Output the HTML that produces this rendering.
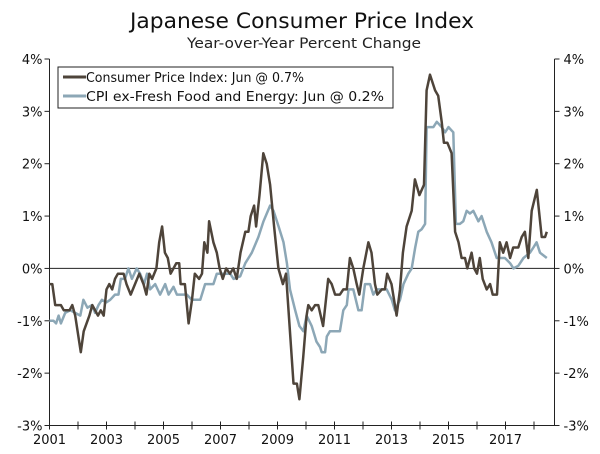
<!DOCTYPE html>
<html><head><meta charset="utf-8"><style>
body{margin:0;background:#fff;width:600px;height:454px;overflow:hidden}
svg{display:block;font-family:"DejaVu Sans","Liberation Sans",sans-serif}
</style></head><body>
<svg id="chart" width="600" height="454" viewBox="0 0 600 454">
<text x="302" y="28" font-size="21" text-anchor="middle" fill="#111" textLength="344" lengthAdjust="spacingAndGlyphs">Japanese Consumer Price Index</text>
<text x="304" y="48" font-size="14" text-anchor="middle" fill="#222" textLength="234" lengthAdjust="spacingAndGlyphs">Year-over-Year Percent Change</text>
<g id="axes"></g>
<g id="series"></g>
<g>
<rect x="58" y="67" width="335" height="41" fill="#fff" stroke="#222" stroke-width="1"/>
<line x1="63" y1="77" x2="86" y2="77" stroke="#4e443a" stroke-width="3"/>
<text x="86" y="82" font-size="13" fill="#111" textLength="218" lengthAdjust="spacingAndGlyphs">Consumer Price Index: Jun @ 0.7%</text>
<line x1="63" y1="96" x2="86" y2="96" stroke="#8ca7b6" stroke-width="3"/>
<text x="86" y="101" font-size="13" fill="#111" textLength="298" lengthAdjust="spacingAndGlyphs">CPI ex-Fresh Food and Energy: Jun @ 0.2%</text>
</g>
</svg>
<script>
const cpiYears=[2001.0,2001.1,2001.2,2001.4,2001.5,2001.7,2001.8,2001.9,2002.1,2002.2,2002.4,2002.5,2002.7,2002.8,2002.9,2003.0,2003.1,2003.2,2003.3,2003.4,2003.6,2003.7,2003.85,2004.0,2004.15,2004.3,2004.4,2004.5,2004.6,2004.75,2004.85,2004.95,2005.05,2005.15,2005.25,2005.35,2005.45,2005.55,2005.6,2005.75,2005.88,2006.0,2006.1,2006.25,2006.35,2006.43,2006.54,2006.6,2006.75,2006.87,2006.97,2007.08,2007.2,2007.33,2007.45,2007.57,2007.7,2007.87,2007.98,2008.06,2008.18,2008.25,2008.37,2008.5,2008.62,2008.74,2008.88,2009.03,2009.19,2009.3,2009.45,2009.56,2009.68,2009.77,2009.9,2010.02,2010.08,2010.2,2010.32,2010.43,2010.6,2010.78,2010.9,2011.02,2011.19,2011.31,2011.43,2011.54,2011.66,2011.78,2011.87,2012.01,2012.19,2012.3,2012.42,2012.5,2012.66,2012.77,2012.85,2013.0,2013.18,2013.3,2013.4,2013.53,2013.71,2013.82,2013.98,2014.14,2014.23,2014.35,2014.53,2014.64,2014.76,2014.84,2014.96,2015.11,2015.23,2015.35,2015.46,2015.58,2015.66,2015.81,2015.9,2016.0,2016.1,2016.2,2016.34,2016.46,2016.55,2016.7,2016.8,2016.92,2017.04,2017.16,2017.27,2017.45,2017.57,2017.68,2017.8,2017.92,2018.1,2018.27,2018.39,2018.45];
const cpiValues=[-0.3,-0.3,-0.7,-0.7,-0.8,-0.8,-0.7,-0.9,-1.6,-1.2,-0.9,-0.7,-0.9,-0.8,-0.9,-0.4,-0.3,-0.4,-0.2,-0.1,-0.1,-0.3,-0.5,-0.3,-0.1,-0.3,-0.5,-0.1,-0.2,0.0,0.5,0.8,0.3,0.2,-0.1,0.0,0.1,0.1,-0.3,-0.3,-1.05,-0.6,-0.1,-0.2,-0.1,0.5,0.3,0.9,0.5,0.3,0.0,-0.2,0.0,-0.1,0.0,-0.2,0.3,0.7,0.7,1.0,1.2,0.8,1.4,2.2,2.0,1.6,0.8,0.0,-0.3,-0.1,-1.3,-2.2,-2.2,-2.5,-1.7,-0.9,-0.7,-0.8,-0.7,-0.7,-1.1,-0.2,-0.3,-0.5,-0.5,-0.4,-0.4,0.2,0.0,-0.3,-0.5,0.0,0.5,0.3,-0.3,-0.5,-0.4,-0.4,-0.1,-0.3,-0.9,-0.4,0.3,0.8,1.1,1.7,1.4,1.6,3.4,3.7,3.4,3.3,2.8,2.4,2.4,2.2,0.7,0.5,0.2,0.2,0.0,0.3,0.0,-0.1,0.2,-0.2,-0.4,-0.3,-0.5,-0.5,0.5,0.3,0.5,0.2,0.4,0.4,0.6,0.7,0.2,1.1,1.5,0.6,0.6,0.7];
const coreYears=[2001.0,2001.14,2001.23,2001.32,2001.4,2001.55,2001.73,2001.9,2002.08,2002.19,2002.33,2002.49,2002.6,2002.72,2002.84,2002.99,2003.13,2003.3,2003.42,2003.5,2003.65,2003.77,2003.89,2004.06,2004.18,2004.32,2004.42,2004.53,2004.71,2004.88,2005.06,2005.18,2005.35,2005.47,2005.64,2005.82,2005.99,2006.29,2006.46,2006.75,2006.87,2007.11,2007.34,2007.46,2007.69,2007.87,2008.1,2008.33,2008.51,2008.74,2008.86,2009.04,2009.21,2009.33,2009.44,2009.62,2009.77,2009.91,2010.02,2010.2,2010.37,2010.49,2010.55,2010.67,2010.73,2010.84,2010.96,2011.19,2011.31,2011.43,2011.49,2011.66,2011.84,2011.95,2012.07,2012.25,2012.36,2012.48,2012.83,2013.01,2013.12,2013.3,2013.42,2013.59,2013.71,2013.83,2013.94,2014.06,2014.18,2014.23,2014.47,2014.59,2014.76,2014.88,2015.0,2015.17,2015.26,2015.4,2015.52,2015.64,2015.75,2015.87,2016.05,2016.16,2016.34,2016.51,2016.69,2016.81,2016.98,2017.16,2017.28,2017.45,2017.63,2017.86,2017.98,2018.09,2018.21,2018.45];
const coreValues=[-1.0,-1.0,-1.05,-0.9,-1.05,-0.85,-0.8,-0.85,-0.9,-0.6,-0.75,-0.7,-0.85,-0.7,-0.6,-0.65,-0.6,-0.5,-0.5,-0.2,-0.2,0.0,-0.2,0.0,-0.1,-0.3,-0.1,-0.4,-0.3,-0.5,-0.3,-0.5,-0.35,-0.5,-0.5,-0.5,-0.6,-0.6,-0.3,-0.3,-0.1,-0.1,-0.1,-0.2,-0.15,0.1,0.3,0.6,0.9,1.2,1.1,0.8,0.5,0.1,-0.4,-0.8,-1.1,-1.2,-0.9,-1.1,-1.4,-1.5,-1.6,-1.6,-1.3,-1.2,-1.2,-1.2,-0.8,-0.7,-0.4,-0.4,-0.8,-0.8,-0.3,-0.3,-0.5,-0.4,-0.4,-0.6,-0.8,-0.6,-0.3,-0.1,0.0,0.4,0.7,0.75,0.85,2.7,2.7,2.8,2.7,2.6,2.7,2.6,0.85,0.85,0.9,1.1,1.05,1.1,0.9,1.0,0.7,0.5,0.2,0.2,0.2,0.1,0.0,0.05,0.2,0.3,0.4,0.5,0.3,0.2];
const yTicks=[4,3,2,1,0,-1,-2,-3];
const xTickLabels=[2001,2003,2005,2007,2009,2011,2013,2015,2017];

const NS='http://www.w3.org/2000/svg';
const L=49.5,R=554.5,T=59,B=425.5;
const xs=y=>L+(y-2001)*28.5;
const ys=v=>T+(4-v)*(B-T)/7;
function mk(tag,attrs,parent){const e=document.createElementNS(NS,tag);for(const k in attrs)e.setAttribute(k,attrs[k]);parent.appendChild(e);return e;}
const ax=document.getElementById('axes');
let e;
e=mk('line',{x1:L,y1:T,x2:L,y2:B,stroke:'#222','stroke-width':1},ax);


e=mk('line',{x1:R,y1:T,x2:R,y2:B,stroke:'#222','stroke-width':1},ax);


e=mk('line',{x1:L,y1:B,x2:R,y2:B,stroke:'#222','stroke-width':1},ax);


e=mk('line',{x1:L,y1:ys(0),x2:R,y2:ys(0),stroke:'#222','stroke-width':1},ax);


yTicks.forEach(v=>{
  const y=ys(v);
  mk('line',{x1:L-5,y1:y,x2:L,y2:y,stroke:'#222'},ax);
  mk('line',{x1:R,y1:y,x2:R+5,y2:y,stroke:'#222'},ax);
  let t=mk('text',{x:L-7,y:y+5,'font-size':13,'text-anchor':'end',fill:'#111'},ax);
  t.textContent=v+'%';
  
  
  t=mk('text',{x:R+9,y:y+5,'font-size':13,'text-anchor':'start',fill:'#111'},ax);
  t.textContent=v+'%';
  
  
});
for(let yr=2001;yr<=2018;yr++){
  const x=xs(yr);
  mk('line',{x1:x,y1:B-4,x2:x,y2:B+4,stroke:'#222'},ax);
}
xTickLabels.forEach(yr=>{
  const t=mk('text',{x:xs(yr),y:444,'font-size':13,'text-anchor':'middle',fill:'#111'},ax);
  t.textContent=yr;
  
  
});
const sg=document.getElementById('series');
function line(xv,yv,color){
  return mk('polyline',{points:xv.map((x,i)=>xs(x).toFixed(1)+','+ys(yv[i]).toFixed(1)).join(' '),fill:'none',stroke:color,'stroke-width':2.5,'stroke-linejoin':'round'},sg);
}
e=line(coreYears,coreValues,'#8ca7b6');


e=line(cpiYears,cpiValues,'#4e443a');


</script>
</body></html>
